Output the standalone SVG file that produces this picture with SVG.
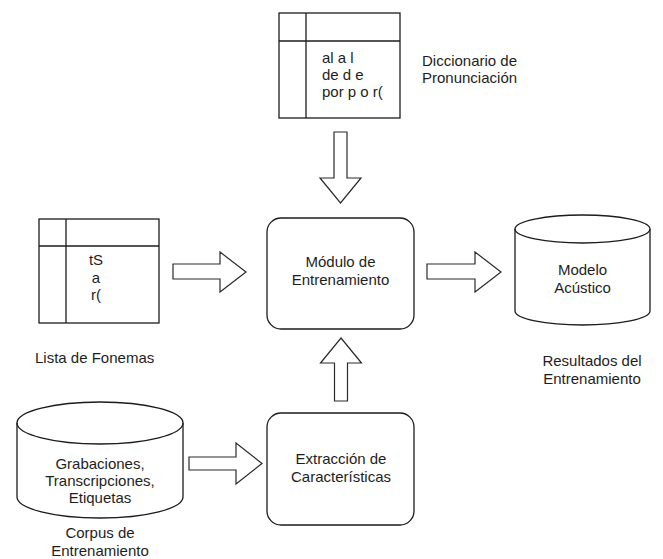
<svg xmlns="http://www.w3.org/2000/svg" width="663" height="559" viewBox="0 0 663 559">
  <style>
    .shape { fill: #ffffff; stroke: #1c1c1c; stroke-width: 1.3; }
    .line { fill: none; stroke: #1c1c1c; stroke-width: 1.3; }
    .arrow { fill: #ffffff; stroke: #2a2a2a; stroke-width: 1.2; stroke-linejoin: miter; }
    text { font-family: "Liberation Sans", Arial, Helvetica, sans-serif; font-size: 15px; fill: #1e1e1e; }
    .c { text-anchor: middle; }
  </style>
  <rect width="663" height="559" fill="#ffffff"/>

  <!-- Pronunciation dictionary table -->
  <g id="diccionario">
    <rect class="shape" x="279" y="13" width="121" height="105"/>
    <line class="line" x1="306" y1="13" x2="306" y2="118"/>
    <line class="line" x1="279" y1="41" x2="400" y2="41"/>
    <text x="322" y="63">al a l</text>
    <text x="322" y="80">de d e</text>
    <text x="322" y="97">por p o r(</text>
  </g>
  <g id="diccionario-label">
    <text x="422" y="66">Diccionario de</text>
    <text x="422" y="83">Pronunciación</text>
  </g>

  <!-- Phoneme list table -->
  <g id="fonemas">
    <rect class="shape" x="39" y="219" width="120" height="104"/>
    <line class="line" x1="66" y1="219" x2="66" y2="323"/>
    <line class="line" x1="39" y1="246" x2="159" y2="246"/>
    <text class="c" x="96" y="265">tS</text>
    <text class="c" x="96" y="283">a</text>
    <text class="c" x="96" y="300">r(</text>
  </g>
  <g id="fonemas-label">
    <text x="35" y="363">Lista de Fonemas</text>
  </g>

  <!-- Training module -->
  <g id="modulo">
    <rect class="shape" x="267" y="218" width="147" height="111" rx="14" ry="14"/>
    <text class="c" x="340.5" y="267">Módulo de</text>
    <text class="c" x="340.5" y="285">Entrenamiento</text>
  </g>

  <!-- Acoustic model store -->
  <g id="modelo">
    <path class="shape" d="M515,229 a67.5,14 0 0,1 135,0 v82 a67.5,14 0 0,1 -135,0 z"/>
    <path class="line" d="M515,229 a67.5,14 0 0,0 135,0"/>
    <text class="c" x="582.5" y="275">Modelo</text>
    <text class="c" x="582.5" y="293">Acústico</text>
  </g>
  <g id="modelo-label">
    <text class="c" x="592" y="366">Resultados del</text>
    <text class="c" x="592" y="384">Entrenamiento</text>
  </g>

  <!-- Training corpus store -->
  <g id="corpus">
    <path class="shape" d="M17,423 a83,21 0 0,1 166,0 v74 a83,21 0 0,1 -166,0 z"/>
    <path class="line" d="M17,423 a83,21 0 0,0 166,0"/>
    <text class="c" x="100" y="469">Grabaciones,</text>
    <text class="c" x="100" y="486">Transcripciones,</text>
    <text class="c" x="100" y="503">Etiquetas</text>
  </g>
  <g id="corpus-label">
    <text class="c" x="100" y="538">Corpus de</text>
    <text class="c" x="100" y="556">Entrenamiento</text>
  </g>

  <!-- Feature extraction -->
  <g id="extraccion">
    <rect class="shape" x="267" y="413" width="147" height="112" rx="14" ry="14"/>
    <text class="c" x="341" y="464">Extracción de</text>
    <text class="c" x="341" y="482">Características</text>
  </g>

  <!-- Block arrows between stages -->
  <g id="connectors">
    <polygon class="arrow" points="334,132 347,132 347,178 361,178 340.5,203 320,178 334,178"/>
    <polygon class="arrow" points="173,264 220,264 220,252 246,272 220,292 220,279 173,279"/>
    <polygon class="arrow" points="427,264 475,264 475,252 501,272 475,292 475,279 427,279"/>
    <polygon class="arrow" points="341,338 361.5,363 347.5,363 347.5,401 334.5,401 334.5,363 320.5,363"/>
    <polygon class="arrow" points="189,457 236,457 236,443 262,463.5 236,484 236,470 189,470"/>
  </g>
</svg>
